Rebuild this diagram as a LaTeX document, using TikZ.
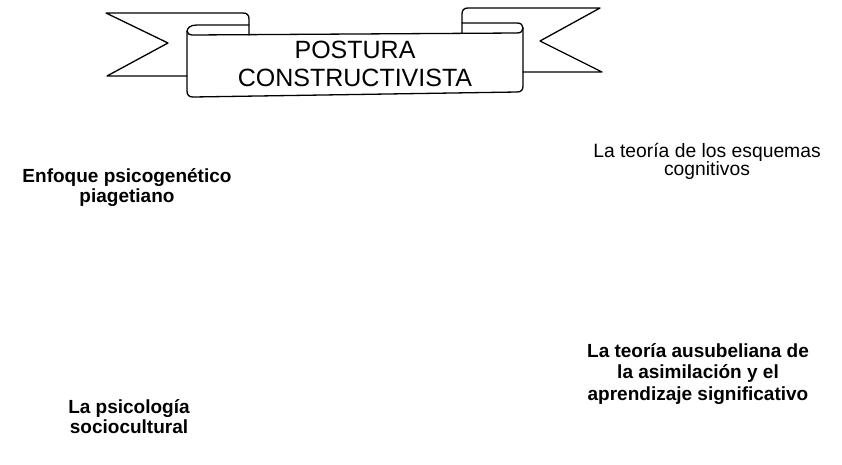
\documentclass[tikz,border=0pt]{standalone}
\usepackage{fontspec}
\setmainfont{Liberation Sans}
\begin{document}
\begin{tikzpicture}[x=1pt,y=-1pt,
  ribbon/.style={line width=1.3pt, line join=round, line cap=round},
  lbl/.style={align=center, anchor=base, inner sep=0pt, font=\fontsize{19}{20}\selectfont\bfseries},
  lblreg/.style={align=center, anchor=base, inner sep=0pt, font=\fontsize{19.3}{18}\selectfont},
  titletext/.style={align=center, anchor=base, inner sep=0pt, font=\fontsize{25}{28}\selectfont}]
\useasboundingbox (0,0) rectangle (842,464);
% left tail
\draw[ribbon] (187,76) -- (107,76) -- (168,43) -- (106,13) -- (243,13)
  .. controls (247,13) and (249,15) .. (249,19) -- (249,35);
% left roll
\draw[ribbon] (249,25) -- (197,25) .. controls (190,25) and (187,28) .. (187,32)
  -- (187,91) .. controls (187,95) and (189,97) .. (193,97) -- (517,92)
  .. controls (521,92) and (523,90) .. (523,86) -- (523,28);
% panel top and right roll
\draw[ribbon] (187,31) .. controls (188,34) and (189,35) .. (192,35) -- (517,33)
  .. controls (521,33) and (523,31) .. (523,28)
  .. controls (523,25) and (521,23) .. (517,23) -- (462,23);
% right tail
\draw[ribbon] (462,33) -- (462,14) .. controls (462,10) and (464,8) .. (468,8)
  -- (600,8) -- (540,41) -- (602,72) -- (523,72);
% texts
\node[titletext] (title) at (355,86) {POSTURA\\CONSTRUCTIVISTA};
\node[lbl] (piaget) at (127,202) {Enfoque psicogenético\\piagetiano};
\node[lblreg] (esquemas) at (707,175) {La teoría de los esquemas\\cognitivos};
\node[lbl] (socio) at (129,433) {La psicología\\sociocultural};
\node[lbl,font=\fontsize{19}{21.5}\selectfont\bfseries] (ausubel) at (698,400) {La teoría ausubeliana de\\la asimilación y el\\aprendizaje significativo};
\end{tikzpicture}
\end{document}
